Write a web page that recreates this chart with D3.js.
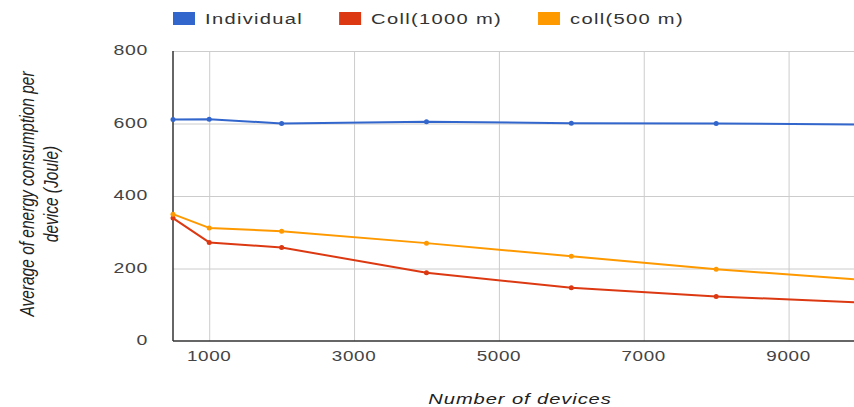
<!DOCTYPE html>
<html>
<head>
<meta charset="utf-8">
<title>Energy consumption per device</title>
<style>
    body { margin: 0; background: #fff; }
    svg text { font-family: "Liberation Sans", Arial, sans-serif; }
</style>
</head>
<body>
<svg id="chart"></svg>
<script src="https://cdn.jsdelivr.net/npm/d3@7"></script>
<script>
    // data
    const devices = [500, 1000, 2000, 4000, 6000, 8000, 10000];
    const individual = [611, 612, 600, 605, 601, 600, 597];
    const coll1000 = [339, 272, 258, 188, 147, 123, 106];
    const coll500 = [350, 312, 303, 270, 234, 198, 169];
    const seriesNames = ["Individual", "Coll(1000 m)", "coll(500 m)"];
    const seriesColors = ["#3366cc", "#dc3912", "#ff9900"];
    const xTicks = [1000, 3000, 5000, 7000, 9000];
    const yTicks = [0, 200, 400, 600, 800];

    const svgWidth = 854, svgHeight = 407;
    const stretch = 1.3; // the original picture is stretched sideways

    const svg = d3.select("#chart")
        .attr("width", svgWidth)
        .attr("height", svgHeight);

    const x = d3.scaleLinear().domain([500, 10000]).range([173, 861]);
    const y = d3.scaleLinear().domain([0, 800]).range([341, 51]);

    const allSeries = [individual, coll1000, coll500].map(function(vals, i) {
        return {
            name: seriesNames[i],
            color: seriesColors[i],
            values: vals.map(function(v, j) { return {x: devices[j], y: v}; })
        };
    });

    // put a horizontally stretched text at (px, py)
    function label(parent, px, py, str, opts) {
        const t = parent.append("text")
            .attr("transform", "translate(" + px + "," + py + ") scale(" + stretch + ",1)")
            .attr("font-size", opts.size || 15)
            .attr("fill", opts.fill || "#444")
            .attr("text-anchor", opts.anchor || "start")
            .attr("letter-spacing", opts.spacing || 0)
            .attr("dy", opts.dy || "0.35em")
            .text(str);
        if (opts.italic) t.attr("font-style", "italic");
        return t;
    }

    // grid
    svg.append("g")
        .attr("transform", "translate(0," + y(0) + ")")
        .call(d3.axisBottom(x).tickValues(xTicks).tickSize(-(y(0) - y(800))).tickFormat(""))
        .call(function(g) { g.select(".domain").remove(); })
        .selectAll("line").attr("stroke", "#cccccc");

    svg.append("g")
        .attr("transform", "translate(" + x(500) + ",0)")
        .call(d3.axisLeft(y).tickValues(yTicks.slice(1)).tickSize(-(x(10000) - x(500))).tickFormat(""))
        .call(function(g) { g.select(".domain").remove(); })
        .selectAll("line").attr("stroke", "#cccccc");

    // tick labels
    xTicks.forEach(function(t) {
        label(svg, x(t), 356, d3.format("d")(t), {size: 14.5, anchor: "middle", fill: "#444", spacing: 0.5});
    });
    yTicks.forEach(function(t) {
        label(svg, 148, y(t) - 1, d3.format("d")(t), {size: 15, anchor: "end", fill: "#444", spacing: 0.5});
    });

    // axis lines
    svg.append("line")
        .attr("x1", x(500)).attr("x2", x(500))
        .attr("y1", y(800)).attr("y2", y(0))
        .attr("stroke", "#333").attr("stroke-width", 1.5);
    svg.append("line")
        .attr("x1", x(500)).attr("x2", x(10000))
        .attr("y1", y(0)).attr("y2", y(0))
        .attr("stroke", "#333").attr("stroke-width", 1.5);

    // lines
    const line = d3.line()
        .x(function(d) { return x(d.x); })
        .y(function(d) { return y(d.y); });

    allSeries.forEach(function(s) {
        svg.append("path")
            .datum(s.values)
            .attr("fill", "none")
            .attr("stroke", s.color)
            .attr("stroke-width", 2)
            .attr("stroke-linejoin", "round")
            .attr("d", line);
        svg.selectAll(null)
            .data(s.values)
            .enter().append("circle")
            .attr("cx", function(d) { return x(d.x); })
            .attr("cy", function(d) { return y(d.y); })
            .attr("r", 2.5)
            .attr("fill", s.color);
    });

    // legend
    let lx = 173;
    allSeries.forEach(function(s) {
        svg.append("rect")
            .attr("x", lx).attr("y", 12)
            .attr("width", 22).attr("height", 13)
            .attr("fill", s.color);
        const t = label(svg, lx + 32, 18.5, s.name, {size: 15.5, fill: "#333", spacing: 1});
        lx += 32 + t.node().getComputedTextLength() * stretch + 36;
    });

    // axis titles
    label(svg, 520, 399, "Number of devices", {size: 15.5, anchor: "middle", fill: "#222", italic: true, spacing: 0.7});

    const yt = svg.append("text")
        .attr("transform", "translate(38,194) scale(" + stretch + ",1) rotate(-90)")
        .attr("font-size", 15.5)
        .attr("font-style", "italic")
        .attr("fill", "#222")
        .attr("text-anchor", "middle");
    yt.append("tspan").attr("x", 0).attr("dy", "-0.2em").text("Average of energy consumption per");
    yt.append("tspan").attr("x", 0).attr("dy", "1.2em").text("device (Joule)");
</script>
</body>
</html>
